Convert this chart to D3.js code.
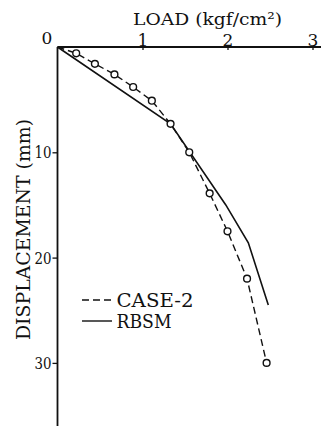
<!DOCTYPE html>
<html>
<head>
<meta charset="utf-8">
<script src="https://cdn.jsdelivr.net/npm/d3@7"></script>
<style>
  html, body { margin: 0; padding: 0; background: #fff; }
  svg { display: block; }
</style>
</head>
<body>
<svg id="chart" width="321" height="426"></svg>
<script>
// ---- data ----
const xTickValues = [1, 2, 3];
const yTickValues = [10, 20, 30];
const originLabel = "0";
const xTitle = "LOAD (kgf/cm²)";
const yTitle = "DISPLACEMENT (mm)";
const seriesNames = ["CASE-2", "RBSM"];

const case2Load = [0, 0.22, 0.44, 0.67, 0.89, 1.11, 1.33, 1.55, 1.79, 2.0, 2.23, 2.46];
const case2Disp = [0, 0.6, 1.6, 2.6, 3.8, 5.1, 7.3, 10.0, 13.9, 17.5, 22.0, 30.0];

const rbsmLoad = [0, 1.33, 1.98, 2.245, 2.48];
const rbsmDisp = [0, 7.3, 15.0, 18.6, 24.5];

// ---- layout ----
const FONT = "'DejaVu Serif', 'Liberation Serif', serif";
const svg = d3.select("#chart");
const x = d3.scaleLinear().domain([0, 3]).range([57.5, 312.5]);
const y = d3.scaleLinear().domain([0, 40]).range([47, 468.2]);
const ink = "#111";

// x axis (top)
const xAxis = d3.axisTop(x).tickValues(xTickValues).tickSizeInner(-3).tickSizeOuter(0).tickPadding(4).tickFormat(d3.format("d"));
const gx = svg.append("g").attr("transform", `translate(0,${y(0)})`).call(xAxis);
gx.select(".domain").remove();
gx.selectAll(".tick line").attr("stroke", ink).attr("stroke-width", 1.3);
gx.selectAll(".tick text").style("font-family", FONT).style("font-size", "17px").attr("fill", ink).attr("y", -1);
svg.append("line").attr("x1", x(0)).attr("x2", 321).attr("y1", y(0)).attr("y2", y(0))
  .attr("stroke", ink).attr("stroke-width", 1.8);

// y axis (left)
const yAxis = d3.axisLeft(y).tickValues(yTickValues).tickSizeInner(5).tickSizeOuter(0).tickPadding(1).tickFormat(d3.format("d"));
const gy = svg.append("g").attr("transform", `translate(${x(0)},0)`).call(yAxis);
gy.select(".domain").remove();
gy.selectAll(".tick line").attr("stroke", ink).attr("stroke-width", 1.3);
gy.selectAll(".tick text").style("font-family", FONT).style("font-size", "17px").attr("fill", ink)
  .attr("textLength", 17).attr("lengthAdjust", "spacingAndGlyphs");
svg.append("line").attr("x1", x(0)).attr("x2", x(0)).attr("y1", y(0)).attr("y2", 426)
  .attr("stroke", ink).attr("stroke-width", 1.8);

// origin label
svg.append("text").attr("x", x(0) - 10.5).attr("y", y(0) - 3).attr("text-anchor", "middle")
  .style("font-family", FONT).style("font-size", "17px").attr("fill", ink).text(originLabel);

// titles
svg.append("text").attr("x", 133).attr("y", 25)
  .style("font-family", FONT).style("font-size", "17px").attr("fill", ink)
  .attr("textLength", 149).attr("lengthAdjust", "spacingAndGlyphs").text(xTitle);
svg.append("text").attr("transform", "translate(30,340) rotate(-90)")
  .style("font-family", FONT).style("font-size", "18px").attr("fill", ink)
  .attr("textLength", 221).attr("lengthAdjust", "spacingAndGlyphs").text(yTitle);

// lines
const line = d3.line().x(d => x(d[0])).y(d => y(d[1]));
const rbsm = rbsmLoad.map((v, i) => [v, rbsmDisp[i]]);
const case2 = case2Load.map((v, i) => [v, case2Disp[i]]);

svg.append("path").datum(rbsm).attr("d", line).attr("fill", "none")
  .attr("stroke", ink).attr("stroke-width", 1.6);
svg.append("path").datum(case2).attr("d", line).attr("fill", "none")
  .attr("stroke", ink).attr("stroke-width", 1.4).attr("stroke-dasharray", "7,4");
svg.selectAll("circle.c2").data(case2.slice(1)).join("circle").attr("class", "c2")
  .attr("cx", d => x(d[0])).attr("cy", d => y(d[1])).attr("r", 3.4)
  .attr("fill", "#fff").attr("stroke", ink).attr("stroke-width", 1.4);

// legend
const legendWidths = [77, 55];
const legend = svg.append("g");
seriesNames.forEach((name, i) => {
  const ly = 300 + i * 21;
  legend.append("line").attr("x1", 82).attr("x2", 112).attr("y1", ly).attr("y2", ly)
    .attr("stroke", ink).attr("stroke-width", 1.4)
    .attr("stroke-dasharray", i === 0 ? "7,4" : null);
  legend.append("text").attr("x", 116.5).attr("y", ly + 6.5)
    .style("font-family", FONT).style("font-size", "18px").attr("fill", ink)
    .attr("textLength", legendWidths[i]).attr("lengthAdjust", "spacingAndGlyphs").text(name);
});
</script>
</body>
</html>
